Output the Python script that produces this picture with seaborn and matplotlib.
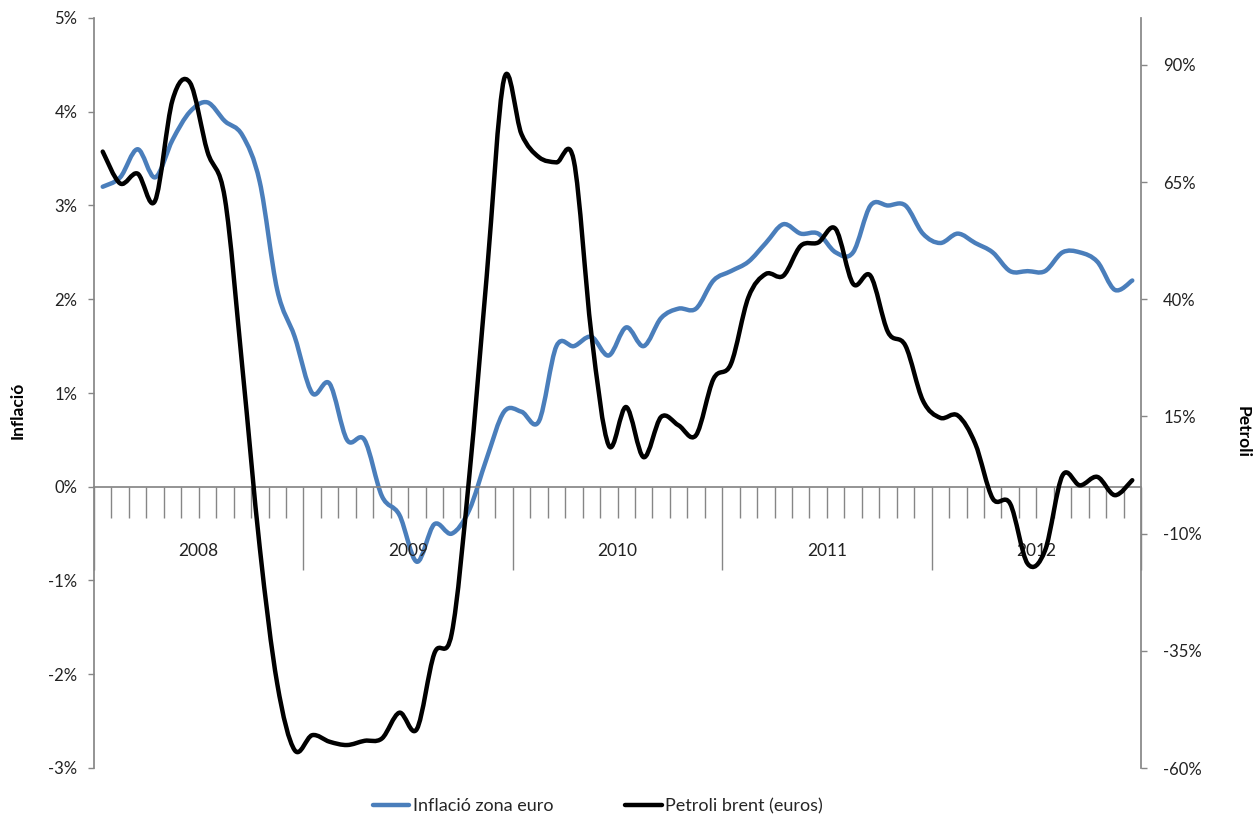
import numpy as np
import pandas as pd
import matplotlib
matplotlib.use('Agg')
import matplotlib.pyplot as plt
from matplotlib.path import Path
from matplotlib.patches import PathPatch
from matplotlib.lines import Line2D
from matplotlib.ticker import FuncFormatter
import seaborn as sns

# Data (monthly, Jan 2008 - Dec 2012)
years = ['2008', '2009', '2010', '2011', '2012']
inflation = [3.2, 3.3, 3.6, 3.3, 3.7, 4.0, 4.1, 3.9, 3.75, 3.25, 2.1, 1.6,
             1.0, 1.1, 0.5, 0.5, -0.1, -0.3, -0.8, -0.4, -0.5, -0.25, 0.3, 0.8,
             0.8, 0.7, 1.5, 1.5, 1.6, 1.4, 1.7, 1.5, 1.8, 1.9, 1.9, 2.2,
             2.3, 2.4, 2.6, 2.8, 2.7, 2.7, 2.5, 2.5, 3.0, 3.0, 3.0, 2.7,
             2.6, 2.7, 2.6, 2.5, 2.3, 2.3, 2.3, 2.5, 2.5, 2.4, 2.1, 2.2]
brent = [71.5, 64.7, 66.8, 61.0, 82.5, 86.2, 71.5, 61.5, 25.5, -13.0, -42.0, -56.2,
         -53.0, -54.4, -55.1, -54.2, -53.7, -48.2, -51.7, -35.6, -31.3, 2.0, 44.7, 87.0,
         75.2, 70.3, 69.2, 69.5, 32.7, 8.8, 17.0, 6.3, 14.9, 13.1, 11.0, 23.0,
         26.2, 40.4, 45.4, 45.0, 51.4, 52.1, 55.0, 43.3, 45.0, 33.0, 30.1, 18.4,
         14.7, 15.2, 9.2, -2.5, -3.6, -16.4, -13.6, 2.4, 0.3, 2.1, -1.8, 1.4]

BLUE = '#4A7EBB'
GREY = '#868686'

sns.set_theme(style='white')
plt.rcParams['font.family'] = ['Lato', 'DejaVu Sans']


def smooth_line(ax, line):
    # Excel style smoothed line: cubic bezier through the points
    pts = line.get_xydata()
    n = len(pts)
    verts = [pts[0]]
    codes = [Path.MOVETO]
    for i in range(n - 1):
        p0 = pts[max(i - 1, 0)]
        p1 = pts[i]
        p2 = pts[i + 1]
        p3 = pts[min(i + 2, n - 1)]
        verts += [p1 + (p2 - p0) / 6, p2 - (p3 - p1) / 6, p2]
        codes += [Path.CURVE4] * 3
    patch = PathPatch(Path(verts, codes), facecolor='none', edgecolor=line.get_color(),
                      lw=line.get_linewidth(), capstyle='round', joinstyle='round')
    ax.add_patch(patch)
    line.set_visible(False)


df = pd.DataFrame({'mes': np.arange(len(inflation)) + 0.5,
                   'inflacio': inflation, 'brent': brent})

fig = plt.figure(figsize=(12.58, 8.21), dpi=100)
ax = fig.add_axes([94 / 1258, 1 - 768 / 821, (1141 - 94) / 1258, 750 / 821])
ax2 = ax.twinx()

sns.lineplot(data=df, x='mes', y='inflacio', ax=ax, color=BLUE, lw=3.2, legend=False)
sns.lineplot(data=df, x='mes', y='brent', ax=ax2, color='black', lw=3.2, legend=False)
smooth_line(ax, ax.lines[0])
smooth_line(ax2, ax2.lines[0])

# left axis
ax.set_xlim(0, 60)
ax.set_ylim(-3, 5)
ax.set_yticks(range(-3, 6))
ax.yaxis.set_major_formatter(FuncFormatter(lambda v, p: f'{v:.0f}%'))
ax.set_xlabel('')
ax.set_ylabel('')
for s in ['top', 'right']:
    ax.spines[s].set_visible(False)
ax.spines['left'].set_color(GREY)
ax.spines['bottom'].set_color(GREY)
ax.spines['bottom'].set_position(('data', 0))
ax.set_xticks(range(0, 61, 12))
ax.set_xticks([m for m in range(1, 60) if m % 12], minor=True)
ax.tick_params(axis='x', which='major', length=60, width=1, color=GREY, bottom=True,
               direction='out', labelbottom=False)
ax.tick_params(axis='x', which='minor', length=22, width=1, color=GREY, bottom=True,
               direction='out')
ax.tick_params(axis='y', which='major', length=4, width=1, color=GREY, left=True,
               labelsize=12, labelcolor='#222222', pad=8)
for k, yr in enumerate(years):
    ax.text(12 * k + 6, -0.68, yr, ha='center', va='center', fontsize=12.5, color='#222222')

# right axis
ax2.set_ylim(-60, 100)
ax2.set_yticks(range(-60, 91, 25))
ax2.yaxis.set_major_formatter(FuncFormatter(lambda v, p: f'{v:.0f}%'))
ax2.set_ylabel('')
for s in ['top', 'left', 'bottom']:
    ax2.spines[s].set_visible(False)
ax2.spines['right'].set_color(GREY)
ax2.tick_params(axis='y', which='major', length=4, width=1, color=GREY, right=True,
                labelsize=12, labelcolor='#222222', pad=12)

fig.text(18 / 1258, 1 - 410 / 821, 'Inflació', rotation=90, ha='center', va='center',
         fontsize=12.5, fontweight='bold', color='black')
fig.text(1243 / 1258, 1 - 432 / 821, 'Petroli', rotation=-90, ha='center', va='center',
         fontsize=12.5, fontweight='bold', color='black')

handles = [Line2D([], [], color=BLUE, lw=3.2), Line2D([], [], color='black', lw=3.2)]
fig.legend(handles, ['Inflació zona euro', 'Petroli brent (euros)'], loc='center',
           bbox_to_anchor=(598 / 1258, 1 - 806 / 821), ncol=2, frameon=False, fontsize=13,
           handlelength=2.0, handletextpad=0.2, columnspacing=4.0)

fig.savefig('out.png', dpi=100)
